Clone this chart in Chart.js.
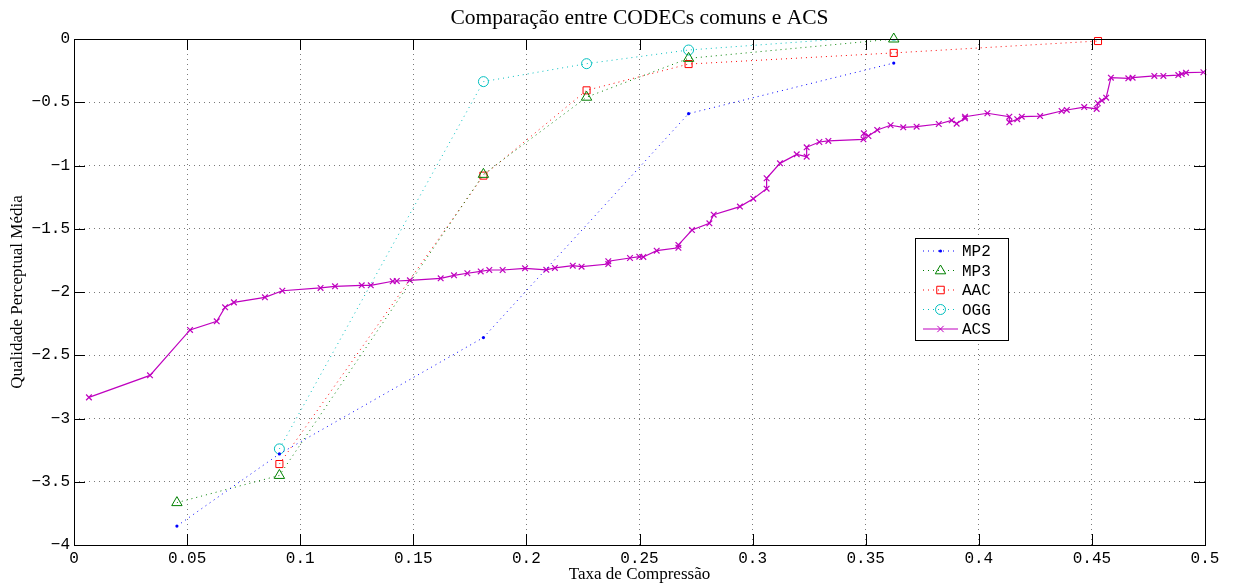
<!DOCTYPE html>
<html>
<head>
<meta charset="utf-8">
<title>Comparação entre CODECs comuns e ACS</title>
<script src="https://cdn.jsdelivr.net/npm/chart.js@4.4.1/dist/chart.umd.min.js"></script>
<style>
    html, body { margin: 0; padding: 0; background: #fff; }
    canvas { display: block; }
</style>
</head>
<body>
<canvas id="codecChart" width="1233" height="588"></canvas>
<script>
// Tick values / labels
const xTicks = [0, 0.05, 0.1, 0.15, 0.2, 0.25, 0.3, 0.35, 0.4, 0.45, 0.5];
const xTickLabels = ['0', '0.05', '0.1', '0.15', '0.2', '0.25', '0.3', '0.35', '0.4', '0.45', '0.5'];
const yTicks = [0, -0.5, -1, -1.5, -2, -2.5, -3, -3.5, -4];
const yTickLabels = ['0', '\u22120.5', '\u22121', '\u22121.5', '\u22122', '\u22122.5', '\u22123', '\u22123.5', '\u22124'];

// CODEC series (compression rate, perceptual quality)
const mp2X = [0.0455, 0.0908, 0.181, 0.2717, 0.3624];
const mp2Y = [-3.85, -3.28, -2.36, -0.59, -0.19];
const mp3X = [0.0455, 0.0908, 0.181, 0.2266, 0.2717, 0.3624];
const mp3Y = [-3.665, -3.45, -1.07, -0.46, -0.153, 0.0];
const aacX = [0.0908, 0.181, 0.2266, 0.2717, 0.3624, 0.4527];
const aacY = [-3.36, -1.08, -0.406, -0.198, -0.11, -0.016];
const oggX = [0.0908, 0.181, 0.2266, 0.2717, 0.3624];
const oggY = [-3.24, -0.337, -0.195, -0.087, 0.03];

// ACS series
const acsX = [0.0066, 0.0336, 0.0513, 0.0631, 0.0668, 0.0707, 0.0844, 0.0921, 0.109, 0.1154,
    0.1272, 0.1312, 0.1409, 0.1427, 0.1485, 0.1621, 0.168, 0.1739, 0.1798, 0.1836,
    0.1895, 0.1994, 0.2088, 0.2126, 0.2205, 0.2244, 0.2362, 0.2362, 0.2458, 0.2499,
    0.2517, 0.2576, 0.2672, 0.2672, 0.2732, 0.2809, 0.2828, 0.2944, 0.3003, 0.3062,
    0.3062, 0.3121, 0.3195, 0.3239, 0.3239, 0.3295, 0.3335, 0.349, 0.3492, 0.3512,
    0.3551, 0.361, 0.3666, 0.3725, 0.3823, 0.388, 0.3902, 0.3939, 0.3939, 0.4038,
    0.4135, 0.4135, 0.417, 0.419, 0.4271, 0.4366, 0.4389, 0.4466, 0.4521, 0.4526,
    0.4544, 0.4563, 0.4584, 0.4661, 0.468, 0.4776, 0.4816, 0.4882, 0.4897, 0.4916,
    0.4993];
const acsY = [-2.833, -2.659, -2.3, -2.232, -2.121, -2.082, -2.042, -1.99, -1.968, -1.955,
    -1.947, -1.947, -1.915, -1.913, -1.908, -1.892, -1.868, -1.852, -1.837, -1.826,
    -1.826, -1.813, -1.825, -1.81, -1.792, -1.8, -1.779, -1.757, -1.731, -1.721,
    -1.723, -1.673, -1.65, -1.628, -1.51, -1.457, -1.389, -1.325, -1.262, -1.183,
    -1.101, -0.983, -0.912, -0.93, -0.856, -0.814, -0.806, -0.793, -0.746, -0.767,
    -0.719, -0.682, -0.698, -0.693, -0.672, -0.643, -0.669, -0.627, -0.614, -0.587,
    -0.614, -0.659, -0.634, -0.614, -0.609, -0.569, -0.561, -0.538, -0.553, -0.508,
    -0.487, -0.464, -0.306, -0.311, -0.306, -0.292, -0.292, -0.285, -0.277, -0.266,
    -0.263];

const seriesNames = ['MP2', 'MP3', 'AAC', 'OGG', 'ACS'];

function toPoints(xs, ys) {
    return xs.map((x, i) => ({ x: x, y: ys[i] }));
}

// Draw a marker the same way for the legend
function drawMarker(ctx, style, r, x, y, color) {
    ctx.save();
    ctx.strokeStyle = color;
    ctx.fillStyle = color;
    ctx.lineWidth = 1;
    ctx.setLineDash([]);
    ctx.beginPath();
    if (style === 'dot') {
        ctx.arc(x, y, r, 0, Math.PI * 2);
        ctx.fill();
    } else if (style === 'triangle') {
        ctx.moveTo(x, y - r);
        ctx.lineTo(x + r * 0.95, y + r * 0.6);
        ctx.lineTo(x - r * 0.95, y + r * 0.6);
        ctx.closePath();
        ctx.stroke();
    } else if (style === 'rect') {
        ctx.rect(x - r * 0.75, y - r * 0.75, r * 1.5, r * 1.5);
        ctx.stroke();
    } else if (style === 'circle') {
        ctx.arc(x, y, r, 0, Math.PI * 2);
        ctx.stroke();
    } else if (style === 'crossRot') {
        ctx.moveTo(x - r * 0.7, y - r * 0.7);
        ctx.lineTo(x + r * 0.7, y + r * 0.7);
        ctx.moveTo(x + r * 0.7, y - r * 0.7);
        ctx.lineTo(x - r * 0.7, y + r * 0.7);
        ctx.stroke();
    }
    ctx.restore();
}

const legendStyles = ['dot', 'triangle', 'rect', 'circle', 'crossRot'];
const legendRadius = [1.6, 5.5, 5, 5, 4.5];

// Box, inward ticks and legend (matlab look)
const framePlugin = {
    id: 'frame',
    afterDraw(chart) {
        const { ctx, chartArea: a, scales: { x, y } } = chart;
        const tl = 11;
        ctx.save();
        ctx.strokeStyle = '#000';
        ctx.lineWidth = 1;
        ctx.setLineDash([]);
        ctx.strokeRect(a.left + 0.5, a.top + 0.5, a.right - a.left, a.bottom - a.top);
        ctx.beginPath();
        xTicks.forEach(v => {
            const px = Math.round(x.getPixelForValue(v)) + 0.5;
            ctx.moveTo(px, a.bottom);
            ctx.lineTo(px, a.bottom - tl);
            ctx.moveTo(px, a.top);
            ctx.lineTo(px, a.top + tl);
        });
        yTicks.forEach(v => {
            const py = Math.round(y.getPixelForValue(v)) + 0.5;
            ctx.moveTo(a.left, py);
            ctx.lineTo(a.left + tl, py);
            ctx.moveTo(a.right, py);
            ctx.lineTo(a.right - tl, py);
        });
        ctx.stroke();

        // legend box
        const lx = 915, ly = 238, lw = 93, lh = 102;
        ctx.fillStyle = '#fff';
        ctx.fillRect(lx, ly, lw, lh);
        ctx.strokeRect(lx + 0.5, ly + 0.5, lw, lh);
        ctx.font = '16px "Liberation Mono", monospace';
        ctx.textBaseline = 'middle';
        ctx.textAlign = 'left';
        chart.data.datasets.forEach((ds, i) => {
            const cy = 251 + i * 19.5;
            ctx.save();
            ctx.strokeStyle = ds.borderColor;
            ctx.lineWidth = 1;
            ctx.setLineDash(ds.borderDash || []);
            ctx.beginPath();
            ctx.moveTo(923, cy);
            ctx.lineTo(958, cy);
            ctx.stroke();
            ctx.restore();
            drawMarker(ctx, legendStyles[i], legendRadius[i], 940.5, cy, ds.borderColor);
            ctx.fillStyle = '#000';
            ctx.fillText(ds.label, 962, cy + 1);
        });
        ctx.restore();
    }
};

document.addEventListener('DOMContentLoaded', function () {
    const ctxCodec = document.getElementById('codecChart').getContext('2d');
    const dotted = [1, 4];

    new Chart(ctxCodec, {
        type: 'line',
        data: {
            datasets: [{
                label: seriesNames[0],
                data: toPoints(mp2X, mp2Y),
                borderColor: '#0000ff',
                backgroundColor: '#0000ff',
                borderWidth: 1,
                borderDash: dotted,
                pointStyle: 'circle',
                pointRadius: 1.6,
                pointBorderWidth: 0,
                clip: false
            }, {
                label: seriesNames[1],
                data: toPoints(mp3X, mp3Y),
                borderColor: '#008000',
                backgroundColor: 'rgba(0,0,0,0)',
                borderWidth: 1,
                borderDash: dotted,
                pointStyle: 'triangle',
                pointRadius: 6,
                pointBorderWidth: 1,
                clip: false
            }, {
                label: seriesNames[2],
                data: toPoints(aacX, aacY),
                borderColor: '#ff0000',
                backgroundColor: 'rgba(0,0,0,0)',
                borderWidth: 1,
                borderDash: dotted,
                pointStyle: 'rect',
                pointRadius: 5,
                pointBorderWidth: 1,
                clip: false
            }, {
                label: seriesNames[3],
                data: toPoints(oggX, oggY),
                borderColor: '#00bfbf',
                backgroundColor: 'rgba(0,0,0,0)',
                borderWidth: 1,
                borderDash: dotted,
                pointStyle: 'circle',
                pointRadius: 5,
                pointBorderWidth: 1,
                clip: 0
            }, {
                label: seriesNames[4],
                data: toPoints(acsX, acsY),
                borderColor: '#bf00bf',
                backgroundColor: '#bf00bf',
                borderWidth: 1.2,
                pointStyle: 'crossRot',
                pointRadius: 4,
                pointBorderWidth: 1.2,
                clip: false
            }]
        },
        options: {
            responsive: false,
            animation: false,
            events: [],
            layout: { padding: { left: 0, right: 28, top: 0, bottom: 0 } },
            plugins: {
                legend: { display: false },
                tooltip: { enabled: false },
                title: {
                    display: true,
                    fullSize: false,
                    text: 'Comparação entre CODECs comuns e ACS',
                    color: '#000',
                    font: { family: '"Liberation Serif", serif', size: 21.5, weight: 'normal' },
                    padding: { top: 5.5, bottom: 7.7 }
                }
            },
            elements: { line: { tension: 0 } },
            scales: {
                x: {
                    type: 'linear',
                    min: 0,
                    max: 0.5,
                    afterBuildTicks: axis => { axis.ticks = xTicks.map(v => ({ value: v })); },
                    afterFit: scale => { scale.height = 43; },
                    ticks: {
                        autoSkip: false,
                        maxRotation: 0,
                        padding: 4,
                        color: '#000',
                        font: { family: '"Liberation Mono", monospace', size: 16 },
                        callback: (value, index) => xTickLabels[index]
                    },
                    grid: { color: '#7a7a7a', lineWidth: 1, drawTicks: false },
                    border: { display: false, dash: [1, 4] },
                    title: {
                        display: true,
                        text: 'Taxa de Compressão',
                        color: '#000',
                        font: { family: '"Liberation Serif", serif', size: 17 },
                        padding: { top: 0, bottom: 3 }
                    }
                },
                y: {
                    type: 'linear',
                    min: -4,
                    max: 0,
                    afterBuildTicks: axis => { axis.ticks = yTicks.slice().reverse().map(v => ({ value: v })); },
                    afterFit: scale => { scale.width = 74; },
                    ticks: {
                        autoSkip: false,
                        padding: 4,
                        color: '#000',
                        font: { family: '"Liberation Mono", monospace', size: 16 },
                        callback: value => yTickLabels[yTicks.indexOf(value)]
                    },
                    grid: { color: '#7a7a7a', lineWidth: 1, drawTicks: false },
                    border: { display: false, dash: [1, 4] },
                    title: {
                        display: true,
                        text: 'Qualidade Perceptual Média',
                        color: '#000',
                        font: { family: '"Liberation Serif", serif', size: 17 },
                        padding: { top: 7, bottom: 0 }
                    }
                }
            }
        },
        plugins: [framePlugin]
    });
});
</script>
</body>
</html>
